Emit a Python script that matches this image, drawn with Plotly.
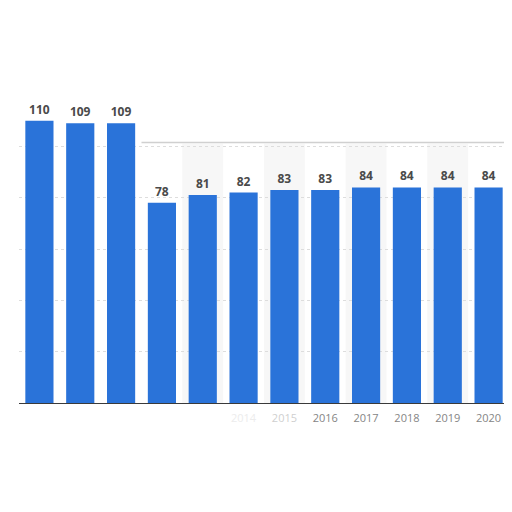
import plotly.graph_objects as go

years = [2009, 2010, 2011, 2012, 2013, 2014, 2015, 2016, 2017, 2018, 2019, 2020]
values = [110, 109, 109, 78, 81, 82, 83, 83, 84, 84, 84, 84]
tick_labels = ["", "", "", "", "", "<span style='color:#ececec'>2014</span>",
               "<span style='color:#cfcfcf'>2015</span>",
               "2016", "2017", "2018", "2019", "2020"]

fig = go.Figure()

# light alternating column bands
shapes = []
for i, yr in enumerate(years):
    if i % 2 == 0 and i >= 4:
        shapes.append(dict(type="rect", xref="x", yref="y", x0=yr - 0.5, x1=yr + 0.5,
                           y0=0, y1=101, fillcolor="#f7f7f7", line_width=0, layer="below"))
# thin border of the card
shapes.append(dict(type="line", xref="x", yref="y", x0=2011.5, x1=2020.5, y0=101.5, y1=101.5,
                   line=dict(color="#d0d0d0", width=1.5)))

fig.add_trace(go.Bar(
    x=years,
    y=values,
    marker_color="#2a73d9",
    marker_line_width=0,
    text=values,
    textposition="outside",
    textfont=dict(family="Open Sans", size=12, color="#4a4a4a", weight="bold"),
    cliponaxis=False,
))

fig.update_layout(
    width=512, height=512,
    margin=dict(l=11, r=11, t=87, b=117),
    paper_bgcolor="white",
    plot_bgcolor="white",
    bargap=0.31,
    showlegend=False,
    shapes=shapes,
    font=dict(family="Open Sans"),
)

fig.update_xaxes(
    tickmode="array", tickvals=years, ticktext=tick_labels,
    tickfont=dict(size=11, color="#858585"),
    ticklabelstandoff=5,
    showline=True, linecolor="#3a3a3a", linewidth=1,
    showgrid=False, ticks="", range=[2008.5, 2020.5],
)
fig.update_yaxes(
    range=[0, 120], dtick=20, showticklabels=False,
    showgrid=True, gridcolor="#dddddd", griddash="dot", gridwidth=1,
    zeroline=False,
)

fig.write_html("out.html")
